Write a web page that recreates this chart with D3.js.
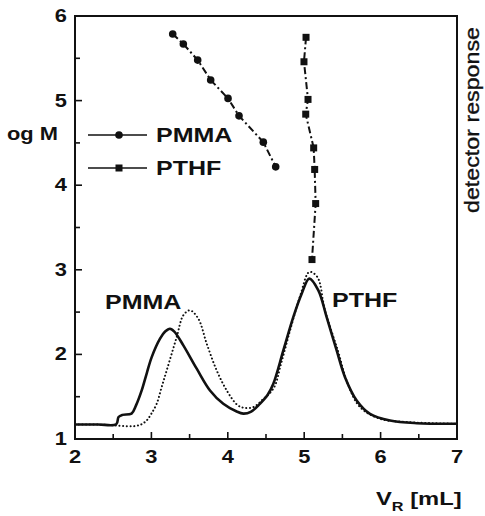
<!DOCTYPE html>
<html>
<head>
<meta charset="utf-8">
<script src="https://cdn.jsdelivr.net/npm/d3@7"></script>
<style>
  html, body { margin: 0; padding: 0; background: #fff; }
  text { font-family: "Liberation Sans", Arial, sans-serif; fill: #111; }
</style>
</head>
<body>
<svg id="chart" width="485" height="516"></svg>
<script>
// ---- data ----
const xTicks = [2, 3, 4, 5, 6, 7];
const yTicks = [1, 2, 3, 4, 5, 6];

// calibration: log M vs V_R
const pmmaCalV = [3.279, 3.418, 3.606, 3.776, 4.003, 4.147, 4.465, 4.627];
const pmmaCalLogM = [5.787, 5.669, 5.479, 5.243, 5.026, 4.820, 4.509, 4.217];
const pthfCalV = [5.024, 4.997, 5.050, 5.020, 5.124, 5.137, 5.150, 5.102];
const pthfCalLogM = [5.748, 5.459, 5.014, 4.840, 4.441, 4.186, 3.783, 3.121];

// detector traces (plotted against left scale)
const solidV = [2.0, 2.3, 2.54, 2.57, 2.62, 2.74, 2.80, 2.873, 2.94, 3.004, 3.113, 3.18, 3.243, 3.30, 3.418, 3.593, 3.767, 3.941, 4.116, 4.203, 4.30, 4.42, 4.52, 4.596, 4.727, 4.857, 4.967, 5.067, 5.185, 5.294, 5.425, 5.534, 5.687, 5.861, 6.123, 6.473, 7.0];
const solidR = [1.172, 1.172, 1.175, 1.26, 1.285, 1.30, 1.40, 1.574, 1.78, 1.968, 2.186, 2.27, 2.304, 2.27, 2.107, 1.831, 1.574, 1.416, 1.325, 1.300, 1.32, 1.416, 1.52, 1.653, 2.047, 2.441, 2.718, 2.896, 2.757, 2.441, 2.047, 1.731, 1.456, 1.298, 1.219, 1.187, 1.180];
const dottedV = [2.0, 2.4, 2.6, 2.763, 2.86, 2.938, 3.0, 3.069, 3.13, 3.2, 3.331, 3.418, 3.505, 3.614, 3.724, 3.855, 3.986, 4.116, 4.2, 4.334, 4.45, 4.60, 4.70, 4.82, 4.95, 5.067, 5.172, 5.272, 5.44, 5.57, 5.73, 5.992, 6.341, 7.0];
const dottedR = [1.172, 1.168, 1.155, 1.151, 1.17, 1.219, 1.30, 1.416, 1.60, 1.81, 2.205, 2.462, 2.521, 2.422, 2.127, 1.81, 1.574, 1.41, 1.37, 1.377, 1.46, 1.60, 1.90, 2.30, 2.70, 2.974, 2.915, 2.521, 2.047, 1.653, 1.377, 1.239, 1.20, 1.18];

const seriesNames = ["PMMA", "PTHF"];

// ---- layout ----
const W = 485, H = 516;
const m = {left: 75, top: 16, right: 28, bottom: 77};
const svg = d3.select("#chart");
const x = d3.scaleLinear().domain([2, 7]).range([m.left, W - m.right]);
const y = d3.scaleLinear().domain([1, 6]).range([H - m.bottom, m.top]);
const SX = 1.25; // horizontal stretch of the lettering

const g = svg.append("g");

function label(px, py, txt, size, anchor, weight) {
  const t = g.append("text")
    .attr("transform", `translate(${px},${py}) scale(${SX},1)`)
    .attr("text-anchor", anchor || "start")
    .attr("font-size", size).attr("font-weight", weight || "bold");
  if (txt !== null) t.text(txt);
  return t;
}

// traces
const zip = (a, b) => a.map((v, i) => [v, b[i]]);
const line = d3.line().x(d => x(d[0])).y(d => y(d[1])).curve(d3.curveCatmullRom.alpha(0.5));

g.append("path").datum(zip(dottedV, dottedR))
  .attr("d", line).attr("fill", "none").attr("stroke", "#111")
  .attr("stroke-width", 2.0).attr("stroke-dasharray", "0.1,3.6").attr("stroke-linecap", "round");
g.append("path").datum(zip(solidV, solidR))
  .attr("d", line).attr("fill", "none").attr("stroke", "#111")
  .attr("stroke-width", 2.6);

// calibration lines
const lin = d3.line().x(d => x(d[0])).y(d => y(d[1]));
const dashDot = "7,3,2,3";
const pm = zip(pmmaCalV, pmmaCalLogM), pt = zip(pthfCalV, pthfCalLogM);
g.append("path").datum(pm).attr("d", lin).attr("fill", "none").attr("stroke", "#111")
  .attr("stroke-width", 2).attr("stroke-dasharray", dashDot);
g.append("path").datum(pt).attr("d", lin).attr("fill", "none").attr("stroke", "#111")
  .attr("stroke-width", 2).attr("stroke-dasharray", dashDot);
g.selectAll("circle.pm").data(pm).join("circle")
  .attr("cx", d => x(d[0])).attr("cy", d => y(d[1])).attr("r", 3.8).attr("fill", "#111");
g.selectAll("rect.pt").data(pt).join("rect")
  .attr("x", d => x(d[0]) - 3.5).attr("y", d => y(d[1]) - 3.5)
  .attr("width", 7).attr("height", 7).attr("fill", "#111");

// frame
const x0 = x(2), x1 = x(7), y0 = y(1), y1 = y(6);
g.append("rect").attr("x", x0).attr("y", y1).attr("width", x1 - x0).attr("height", y0 - y1)
  .attr("fill", "none").attr("stroke", "#111").attr("stroke-width", 2);

// ticks (inward)
const xMinor = d3.range(2.5, 7, 1);
const yMinor = d3.range(1.5, 6, 1);
const tk = g.append("g").attr("stroke", "#111").attr("stroke-width", 1.6);
xTicks.slice(1, -1).forEach(v => tk.append("line").attr("x1", x(v)).attr("x2", x(v)).attr("y1", y0).attr("y2", y0 - 7));
xMinor.forEach(v => tk.append("line").attr("x1", x(v)).attr("x2", x(v)).attr("y1", y0).attr("y2", y0 - 5));
yTicks.slice(1, -1).forEach(v => tk.append("line").attr("x1", x0).attr("x2", x0 + 7).attr("y1", y(v)).attr("y2", y(v)));
yMinor.forEach(v => tk.append("line").attr("x1", x0).attr("x2", x0 + 5).attr("y1", y(v)).attr("y2", y(v)));

// tick labels
xTicks.forEach(v => label(x(v), y0 + 24, v, 17.5, "middle"));
yTicks.forEach(v => label(x0 - 8, y(v) + 6, v, 17.5, "end"));

// axis titles
label(7, 140, "og M", 17.5, "start");
g.append("text").attr("transform", `translate(479,120) rotate(-90)`).attr("text-anchor", "middle")
  .attr("font-size", 21).attr("y", 0).attr("textLength", 186).attr("lengthAdjust", "spacingAndGlyphs")
  .attr("stroke", "#111").attr("stroke-width", 0.35).text("detector response");
const vr = label(376, 505, null, 19, "start");
vr.append("tspan").text("V");
vr.append("tspan").attr("font-size", 13).attr("dy", 6).text("R");
vr.append("tspan").attr("dy", -6).text(" [mL]");

// peak labels
label(105, 309, seriesNames[0], 20, "start");
label(332, 307, seriesNames[1], 20, "start");

// legend
[[135, "circle"], [168, "rect"]].forEach(([ly, shape], i) => {
  g.append("line").attr("x1", 88).attr("x2", 147).attr("y1", ly).attr("y2", ly)
    .attr("stroke", "#111").attr("stroke-width", 1.5);
  if (shape === "circle") g.append("circle").attr("cx", 119).attr("cy", ly).attr("r", 3.8).attr("fill", "#111");
  else g.append("rect").attr("x", 115.5).attr("y", ly - 3.5).attr("width", 7).attr("height", 7).attr("fill", "#111");
  label(156, ly + 7, seriesNames[i], 20, "start");
});
</script>
</body>
</html>
